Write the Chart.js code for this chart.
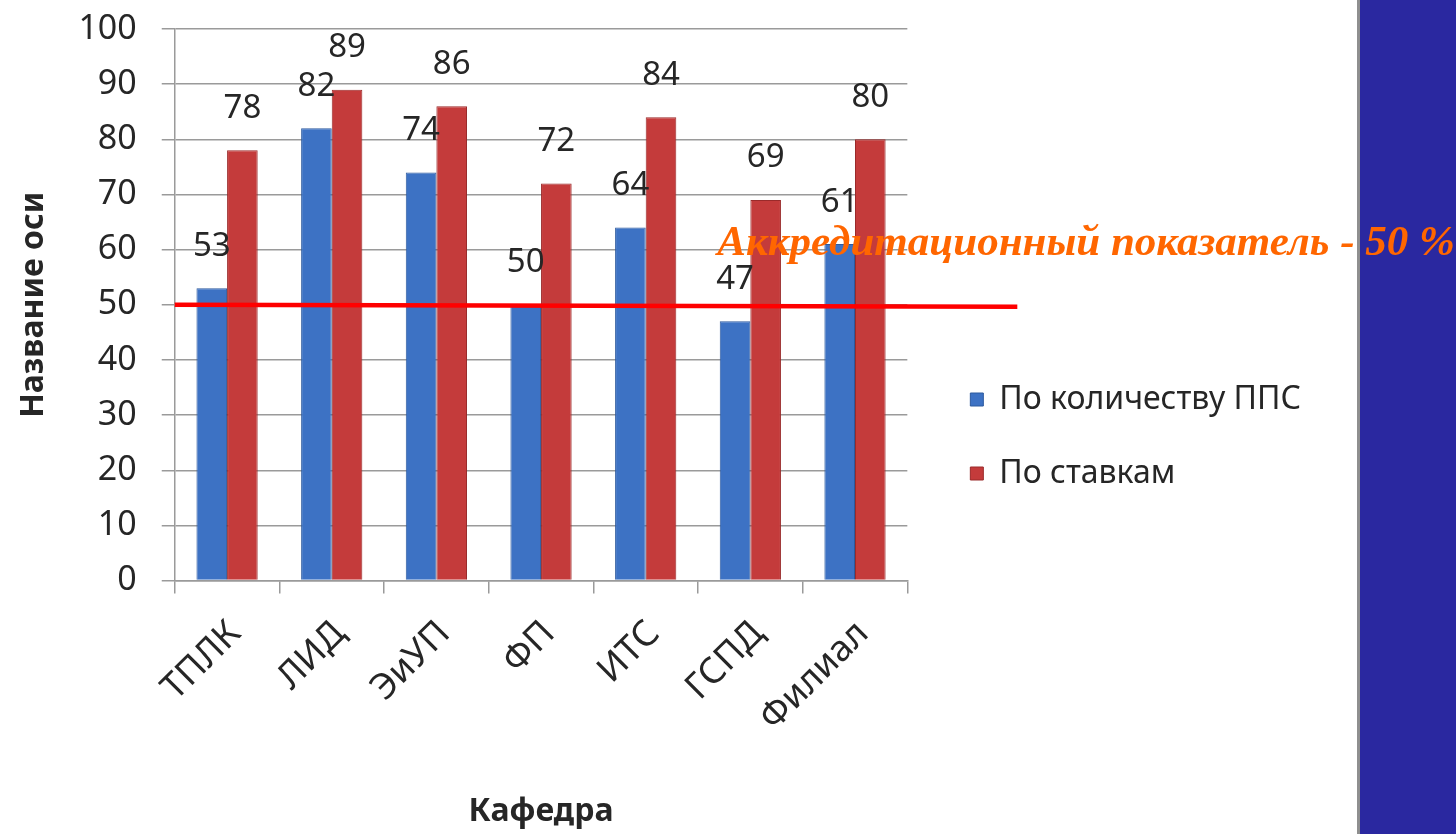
<!DOCTYPE html>
<html>
<head>
    <title>Кафедра</title>
    <style>
        body {
            margin: 0;
            background-color: #fff;
            overflow: hidden;
        }
        .side-panel {
            position: absolute;
            left: 1357px;
            top: 0;
            width: 99px;
            height: 834px;
            background-color: #2a28a0;
            border-left: 3px solid #8f8f8f;
            box-sizing: border-box;
        }
        .chart-container {
            position: absolute;
            left: 0;
            top: 0;
            width: 1456px;
            height: 834px;
        }
    </style>
    <script src="https://cdn.jsdelivr.net/npm/chart.js"></script>
</head>
<body>
    <div class="side-panel"></div>
    <div class="chart-container">
        <canvas id="kafChart"></canvas>
    </div>

    <script>
        const categories = ['ТПЛК', 'ЛИД', 'ЭиУП', 'ФП', 'ИТС', 'ГСПД', 'Филиал'];
        const byStaff = [53, 82, 74, 50, 64, 47, 61];   // По количеству ППС
        const byRates = [78, 89, 86, 72, 84, 69, 80];   // По ставкам
        const accreditValue = 50;
        const accreditText = 'Аккредитационный показатель - 50 %';

        Chart.defaults.font.family = "'Noto Sans', sans-serif";
        Chart.defaults.color = '#262626';

        // value labels above every bar
        const valueLabels = {
            id: 'valueLabels',
            afterDatasetsDraw(chart) {
                const ctx = chart.ctx;
                ctx.save();
                ctx.font = "33px 'Noto Sans'";
                ctx.fillStyle = '#262626';
                ctx.textAlign = 'center';
                ctx.textBaseline = 'middle';
                chart.data.datasets.forEach((ds, i) => {
                    chart.getDatasetMeta(i).data.forEach((bar, j) => {
                        ctx.fillText(ds.data[j], bar.x, bar.y - 42);
                    });
                });
                ctx.restore();
            }
        };

        // red 50% line and the orange caption
        const accreditLine = {
            id: 'accreditLine',
            afterDraw(chart) {
                const ctx = chart.ctx;
                const area = chart.chartArea;
                const y = chart.scales.y.getPixelForValue(accreditValue);
                ctx.save();
                ctx.strokeStyle = '#ff0000';
                ctx.lineWidth = 4.5;
                ctx.beginPath();
                ctx.moveTo(area.left, y);
                ctx.lineTo(area.right + 110, y + 2);
                ctx.stroke();
                ctx.font = "italic bold 43px 'Liberation Serif'";
                ctx.fillStyle = '#ff6600';
                ctx.textBaseline = 'alphabetic';
                ctx.fillText(accreditText, area.right - 190, y - 50);
                ctx.restore();
            }
        };

        const kafChart = new Chart(document.getElementById('kafChart'), {
            type: 'bar',
            data: {
                labels: categories,
                datasets: [
                    {
                        label: 'По количеству ППС',
                        data: byStaff,
                        backgroundColor: '#3d72c4',
                        borderColor: '#2d5a9e',
                        borderWidth: 1,
                        categoryPercentage: 0.585,
                        barPercentage: 1.0
                    },
                    {
                        label: 'По ставкам',
                        data: byRates,
                        backgroundColor: '#c43b3b',
                        borderColor: '#9a2a2a',
                        borderWidth: 1,
                        categoryPercentage: 0.585,
                        barPercentage: 1.0
                    }
                ]
            },
            options: {
                responsive: true,
                maintainAspectRatio: false,
                animation: false,
                layout: {
                    padding: {top: 9, right: 145, bottom: 0, left: 0}
                },
                plugins: {
                    tooltip: {enabled: false},
                    legend: {
                        position: 'right',
                        align: 'center',
                        maxWidth: 600,
                        title: {display: true, text: ' ', font: {size: 20}, padding: 3},
                        labels: {
                            font: {size: 32},
                            color: '#262626',
                            boxWidth: 13,
                            boxHeight: 13,
                            padding: 42
                        }
                    }
                },
                scales: {
                    x: {
                        grid: {
                            drawOnChartArea: false,
                            tickLength: 13,
                            color: '#9a9a9a',
                            lineWidth: 1.5
                        },
                        border: {color: '#9a9a9a', width: 1.5},
                        ticks: {
                            font: {size: 36},
                            color: '#262626',
                            minRotation: 45,
                            maxRotation: 45,
                            padding: 19,
                            labelOffset: 8
                        },
                        title: {
                            display: true,
                            text: 'Кафедра',
                            font: {size: 32, weight: 'bold'},
                            color: '#262626',
                            padding: {top: 34, bottom: 3}
                        }
                    },
                    y: {
                        min: 0,
                        max: 100,
                        ticks: {
                            stepSize: 10,
                            font: {size: 34},
                            color: '#262626',
                            padding: 25
                        },
                        grid: {
                            color: '#9a9a9a',
                            lineWidth: 1.5,
                            tickLength: 13
                        },
                        border: {color: '#9a9a9a', width: 1.5},
                        title: {
                            display: true,
                            text: 'Название оси',
                            font: {size: 32, weight: 'bold'},
                            color: '#262626',
                            padding: {top: 15, bottom: 0}
                        },
                        afterFit: (scale) => { scale.paddingTop = 29; }
                    },
                    spacer: {
                        type: 'linear',
                        position: 'right',
                        grid: {display: false},
                        border: {display: false},
                        ticks: {display: false},
                        afterFit: (scale) => { scale.width = 21; }
                    }
                }
            },
            plugins: [valueLabels, accreditLine]
        });
    </script>
</body>
</html>
